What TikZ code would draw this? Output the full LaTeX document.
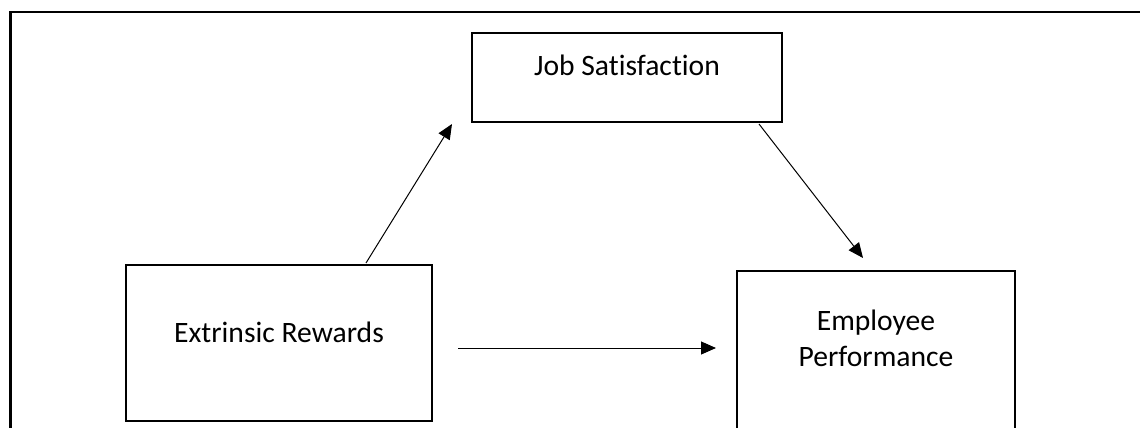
\documentclass[tikz,border=0pt]{standalone}
\usepackage{fontspec}
\setmainfont{Carlito}[Ligatures=NoCommon]
\usetikzlibrary{arrows.meta}
\begin{document}
\begin{tikzpicture}[x=1pt,y=-1pt,
  box/.style={draw,line width=1.6pt,inner sep=0pt,outer sep=0pt,anchor=north west},
  txt/.style={font=\fontsize{29.6}{36}\selectfont,align=center,inner sep=0pt},
  arr/.style={line width=1pt,-{Triangle[length=15pt,width=13pt]}},
  frame/.style={line width=2.2pt}]
\useasboundingbox (0,0) rectangle (1140,428);
\clip (0,0) rectangle (1140,428);
\draw[frame] (10.5,440) -- (10.5,12) -- (1150,12);
\node[box,minimum width=310pt,minimum height=89pt] (js) at (472,33) {};
\node[box,minimum width=306pt,minimum height=156pt] (er) at (126,265) {};
\node[box,minimum width=278pt,minimum height=200pt] (ep) at (737,271) {};
\node[txt,anchor=base] (jst) at (627,75) {Job Satisfaction};
\node[txt,anchor=base] (ert) at (279,342) {Extrinsic Rewards};
\node[txt,anchor=base] (ept) at (876,366) {Employee\\Performance};
\coordinate (a1s) at (366,263);
\coordinate (a1e) at (452,124);
\coordinate (a2s) at (759,124);
\coordinate (a2e) at (863,258);
\coordinate (a3s) at (458,348);
\coordinate (a3e) at (716,348);
\draw[arr] (a1s) -- (a1e);
\draw[arr] (a2s) -- (a2e);
\draw[arr] (a3s) -- (a3e);
\end{tikzpicture}
\end{document}
